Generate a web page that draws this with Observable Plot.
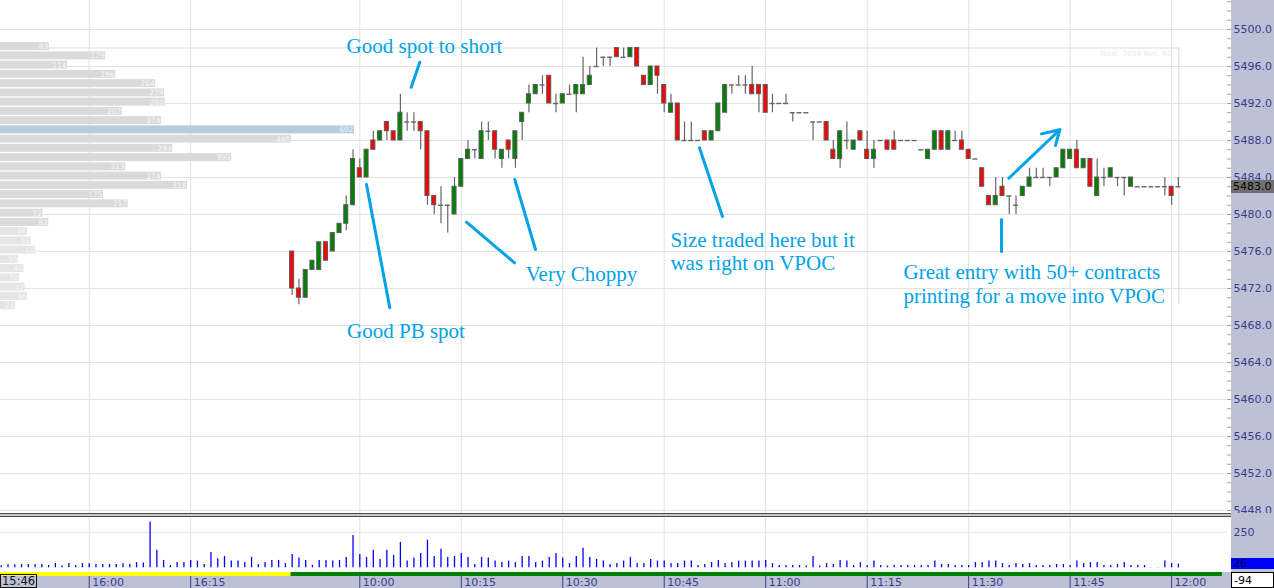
<!DOCTYPE html>
<html><head><meta charset="utf-8">
<script src="https://cdn.jsdelivr.net/npm/d3@7"></script>
<script src="https://cdn.jsdelivr.net/npm/@observablehq/plot@0.6"></script>
<style>
html,body{margin:0;padding:0;background:#fff;overflow:hidden;}
#wrap{position:relative;width:1274px;height:588px;overflow:hidden;font-family:"DejaVu Sans",sans-serif;}
.box{position:absolute;box-sizing:border-box;font-family:"DejaVu Sans",sans-serif;font-size:11px;line-height:1;white-space:nowrap;}
</style></head><body><div id="wrap"></div>
<script>
// ---------------- DATA ----------------
const firstBar = -10; // bar index of first visible candle (10:00 bar = 0)
const candleOpen = [
5476,5472,5471,5474,5474,5477,5476,5478,5479,5481,
5485,5484,5488,5488,5490,5489,5488,5490,5490,5490,
5489,5482,5481,5481,5480,5483,5486,5487,5486,5489,
5489,5486,5488,5486,5490,5492,5493,5494,5495,5492,
5492,5493,5493,5493,5494,5496,5497,5497,5498,5497,
5497,5498,5495,5494,5496,5494,5491,5492,5488,5488,
5488,5489,5488,5489,5491,5494,5494,5494,5494,5494,
5494,5492,5492,5492,5491,5491,5491,5490,5490,5490,
5487,5486,5488,5487,5489,5487,5486,5488,5488,5488,
5488,5488,5488,5487,5486,5487,5489,5487,5488,5488,
5487,5486,5485,5482,5481,5483,5482,5481,5482,5483,
5484,5484,5484,5484,5485,5486,5487,5485,5486,5482,
5484,5484,5484,5484,5483,5483,5483,5483,5483,5483,
5483,5483];
const candleHigh = [
5476,5473,5474,5475,5477,5477,5478,5479,5482,5487,
5486,5487,5489,5489,5490,5489,5493,5491,5491,5490,
5489,5482,5483,5481,5484,5486,5488,5487,5490,5490,
5489,5487,5488,5489,5491,5494,5494,5495,5495,5493,
5493,5494,5494,5497,5496,5498,5497,5497,5498,5498,
5498,5498,5495,5496,5496,5494,5493,5492,5490,5490,
5488,5489,5489,5492,5494,5494,5495,5495,5496,5494,
5494,5493,5492,5493,5491,5491,5491,5490,5490,5490,
5488,5489,5490,5488,5489,5489,5488,5488,5488,5489,
5488,5488,5488,5487,5487,5489,5489,5489,5489,5489,
5487,5486,5485,5482,5484,5484,5482,5482,5483,5485,
5485,5485,5484,5485,5487,5487,5488,5486,5486,5486,
5485,5485,5484,5484,5484,5483,5483,5483,5483,5484,
5483,5484];
const candleLow = [
5471.25,5470.25,5471,5474,5474,5475,5476,5478,5478.25,5481,
5484,5484,5487,5488,5488,5488,5488,5489,5489,5487,
5481,5480,5479,5478,5480,5483,5486,5486,5486,5488,
5486,5485,5486,5485,5488,5491,5493,5493,5492,5491,
5492,5493,5491,5493,5494,5496,5496,5496,5497,5497,
5497,5496,5494,5494,5493,5491,5491,5488,5488,5488,
5488,5488,5488,5489,5491,5493,5494,5493,5493,5491,
5491,5491,5492,5492,5490,5491,5491,5488,5490,5488,
5486,5485,5487,5487,5488,5486,5485,5488,5487,5487,
5488,5488,5488,5487,5486,5487,5487,5487,5488,5487,
5486,5486,5483,5481,5481,5482,5480,5480,5482,5483,
5484,5484,5483,5484,5485,5486,5485,5485,5483,5482,
5483,5484,5483,5482,5483,5483,5483,5483,5483,5482,
5481,5483];
const candleClose = [
5472,5471,5474,5475,5477,5475,5478,5479,5481,5486,
5484,5487,5487,5489,5489,5488,5491,5490,5490,5489,
5482,5481,5481,5481,5483,5486,5487,5487,5489,5489,
5487,5487,5487,5489,5491,5493,5494,5494,5492,5492,
5493,5493,5494,5494,5495,5496,5497,5497,5497,5497,
5498,5496,5494,5496,5495,5492,5492,5488,5488,5488,
5488,5488,5489,5492,5494,5494,5494,5494,5493,5493,
5491,5492,5492,5492,5491,5491,5491,5490,5490,5488,
5486,5489,5488,5488,5488,5486,5487,5488,5487,5487,
5488,5488,5488,5487,5487,5489,5487,5489,5488,5487,
5486,5486,5483,5481,5482,5482,5482,5481,5483,5484,
5484,5484,5484,5485,5487,5487,5485,5486,5483,5484,
5484,5485,5484,5484,5484,5483,5483,5483,5483,5483,
5482,5483];

// per-bar volume, bar index -53 .. 121
const volFirstBar = -53;
const barVolume = [
14,21,21,23,23,23,23,16,30,12, 30,16,30,28,23,23,23,23,28,23,
37,33,321,124,52,16,37,37,52,47, 23,108,63,80,47,47,37,73,23,37,
52,52,30,94,68,52,16,52,52,47, 52,73,227,94,73,124,59,124,87,178,
47,68,101,194,80,131,73,80,101,73, 23,73,68,47,37,47,37,80,80,37,
47,73,101,68,30,80,138,73,59,47, 23,30,47,73,30,
30,59,47,47,30,30,47,47,16,23, 37,52,30,37,47,47,47,47,52,30,
16,16,16,16,12,80,12,30,23,52, 47,16,37,16,47,16,12,16,16,16,
16,16,16,47,23,23,16,16,16,37, 37,47,47,30,16,30,23,30,16,16,
16,23,23,16,47,30,37,37,16,16, 23,37,16,16,16,2,2,47,30,26];

// volume profile
const profilePrice = [5498,5497,5496,5495,5494,5493,5492,5491,5490,5489,5488,5487,5486,5485,5484,5483,5482,5481,5480,5479,5478,5477,5476,5475,5474,5473,5472,5471,5470];
const profileVolume = [83,179,114,196,264,279,280,207,274,602,495,293,393,213,274,318,175,217,72,82,46,52,60,30,40,32,42,46,26];
const profileTotal = 7058, profileNet = 92;

// axes
const priceTicks = [5448,5452,5456,5460,5464,5468,5472,5476,5480,5484,5488,5492,5496,5500];
const timeTickBar = [-40,-25,0,15,30,45,60,75,90,105,120];
const timeTickLabel = ["16:00","16:15","10:00","10:15","10:30","10:45","11:00","11:15","11:30","11:45","12:00"];
const cursorTime = "15:46";
const lastPrice = 5483.0;
const lastVolume = 26;
const deltaValue = -94;
const sessionBreakBar = -10.15;
const sessionEndBar = 127.5;

// annotations (bar index, price)
const noteText = ["Good spot to short","Good PB spot","Very Choppy","Size traded here but it","was right on VPOC","Great entry with 50+ contracts","printing for a move into VPOC"];
const noteBar = [9.56, 6.83, 32.77, 45.92, 45.92, 80.37, 80.37];
const notePrice = [5498.16, 5467.35, 5473.51, 5477.19, 5474.70, 5473.73, 5471.13];
const noteAnchor = ["middle","middle","middle","start","start","start","start"];
const pointerSegments = [
  [8.87,5496.46, 7.60,5493.76],
  [0.99,5483.24, 4.43,5469.91],
  [15.77,5479.17, 22.87,5474.78],
  [22.91,5483.78, 25.97,5476.22],
  [50.21,5487.21, 53.61,5479.78],
  [94.86,5479.46, 94.86,5476.00],
  [95.94,5483.92, 103.47,5489.16],
  [103.47,5489.16, 100.77,5488.72],
  [103.47,5489.16, 102.84,5487.46]
];

// ---------------- LAYOUT / STYLE ----------------
const W = 1274, plotRight = 1226, barPx = 6.765, bar0Px = 359.3;
const xDomain = [-bar0Px / barPx, (plotRight - bar0Px) / barPx];
const profilePxPerLot = 0.588;
const gridColor = "#e2e2e2";
const axisColor = "#3c3c8c";
const noteColor = "#00A2E8";

const candles = candleOpen.map((o, k) => ({i: firstBar + k, open: o, high: candleHigh[k], low: candleLow[k], close: candleClose[k]}));
const vols = barVolume.map((v, k) => ({i: volFirstBar + k, v}));
const profile = profilePrice.map((p, k) => ({p, v: profileVolume[k], light: k >= 20}));
const notes = noteText.map((t, k) => ({t, i: noteBar[k], p: notePrice[k], a: noteAnchor[k]}));
const timeTicks = timeTickBar.map((b, k) => ({b, label: timeTickLabel[k]}));
const lastBar = candles[candles.length - 1].i;
const profHigh = d3.max(candleHigh), profLow = d3.min(candleLow);
const vpoc = d3.max(profileVolume);
const lotToBar = profilePxPerLot / barPx;
const profX = v => xDomain[0] + v * lotToBar;
const minorTicks = d3.range(5448, 5504, 1);

const svgStyle = {background: "transparent", fontFamily: "DejaVu Sans", overflow: "hidden"};

const pricePlot = Plot.plot({
  width: W, height: 513,
  marginLeft: 0, marginRight: W - plotRight, marginTop: 0, marginBottom: 0,
  x: {domain: xDomain, axis: null},
  y: {domain: [5447.676, 5503.135]},
  style: svgStyle,
  marks: [
    Plot.ruleY(priceTicks, {stroke: gridColor}),
    Plot.ruleX(timeTicks, {x: "b", stroke: gridColor}),
    // profile box
    Plot.ruleY([profHigh], {x1: xDomain[0], x2: lastBar + 0.06, stroke: "#dcdcdc"}),
    Plot.ruleX([lastBar + 0.06], {y1: profLow, y2: profHigh, stroke: "#dcdcdc"}),
    // profile bars
    Plot.rect(profile.filter(d => d.v !== vpoc), {
      x1: xDomain[0], x2: d => profX(d.v), y1: d => d.p + 0.15 - 0.43, y2: d => d.p + 0.15 + 0.43,
      fill: d => d.light ? "#e4e4e4" : "#dadada"
    }),
    Plot.rect(profile.filter(d => d.v === vpoc), {
      x1: xDomain[0], x2: d => profX(d.v), y1: d => d.p + 0.15 - 0.43, y2: d => d.p + 0.15 + 0.43,
      fill: "#b6cbe0"
    }),
    Plot.text(profile, {x: d => profX(d.v), y: d => d.p + 0.15, text: d => String(d.v), textAnchor: "end", dx: -1, fill: "#f6f6f6", fontSize: 7.5}),
    Plot.text([`Total: ${profileTotal} Net: ${profileNet}`], {x: lastBar, y: profHigh, text: d => d, textAnchor: "end", dx: -7, dy: 6, fill: "#ebebeb", fontSize: 7.5}),
    // candles
    Plot.ruleX(candles, {x: "i", y1: "low", y2: "high", stroke: "#666", strokeWidth: 1.2}),
    Plot.ruleY(candles.filter(d => d.open === d.close), {y: "open", x1: d => d.i - 0.37, x2: d => d.i + 0.37, stroke: "#666", strokeWidth: 1.4}),
    Plot.rect(candles.filter(d => d.close > d.open), {x1: d => d.i - 0.3, x2: d => d.i + 0.3, y1: "open", y2: "close", fill: "#008000", stroke: "#5c5c5c", strokeWidth: 1}),
    Plot.rect(candles.filter(d => d.close < d.open), {x1: d => d.i - 0.3, x2: d => d.i + 0.3, y1: "open", y2: "close", fill: "#ff0000", stroke: "#5c5c5c", strokeWidth: 1}),
    // annotations
    Plot.link(pointerSegments, {x1: d => d[0], y1: d => d[1], x2: d => d[2], y2: d => d[3], stroke: noteColor, strokeWidth: 3, strokeLinecap: "round"}),
    Plot.text(notes.filter(d => d.a === "middle"), {x: "i", y: "p", text: "t", textAnchor: "middle", fill: noteColor, fontSize: 21, fontFamily: "Liberation Serif"}),
    Plot.text(notes.filter(d => d.a === "start"), {x: "i", y: "p", text: "t", textAnchor: "start", fill: noteColor, fontSize: 21, fontFamily: "Liberation Serif"}),
    // right axis
    Plot.axisY({anchor: "right", ticks: minorTicks, tickSize: 4, tickFormat: () => "", stroke: "#a0a0a0", label: null}),
    Plot.axisY({anchor: "right", ticks: priceTicks, tickSize: 0, tickPadding: 7, tickFormat: d => d.toFixed(1), color: axisColor, fontSize: 11, label: null})
  ]
});

const volPlot = Plot.plot({
  width: W, height: 55,
  marginLeft: 0, marginRight: W - plotRight, marginTop: 0, marginBottom: 0,
  x: {domain: xDomain, axis: null},
  y: {domain: [-33, 353.2]},
  style: svgStyle,
  marks: [
    Plot.ruleX(timeTicks, {x: "b", stroke: gridColor}),
    Plot.ruleY([250], {stroke: gridColor}),
    Plot.ruleX(vols, {x: "i", y1: 0, y2: "v", stroke: "#0000ff", strokeWidth: 1.3}),
    Plot.axisY({anchor: "right", ticks: [250], tickSize: 0, tickPadding: 7, tickFormat: d => String(d), color: axisColor, fontSize: 11, label: null})
  ]
});

const timePlot = Plot.plot({
  width: W, height: 16,
  marginLeft: 0, marginRight: W - plotRight, marginTop: 0, marginBottom: 0,
  x: {domain: xDomain, axis: null},
  y: {domain: [0, 16], axis: null},
  style: svgStyle,
  marks: [
    Plot.rect([0], {x1: xDomain[0], x2: sessionBreakBar, y1: 12, y2: 16, fill: "#ffff00"}),
    Plot.rect([0], {x1: sessionBreakBar, x2: sessionEndBar, y1: 12, y2: 16, fill: "#008000"}),
    Plot.ruleX(timeTicks, {x: "b", y1: 0, y2: 12, stroke: axisColor}),
    Plot.text(timeTicks, {x: "b", y: 5.8, text: "label", textAnchor: "start", dx: 3, fill: axisColor, fontSize: 11})
  ]
});

// ---------------- ASSEMBLE ----------------
const wrap = document.getElementById("wrap");
function div(css, txt) { const d = document.createElement("div"); d.className = "box"; d.style.cssText += css; if (txt != null) d.textContent = txt; wrap.appendChild(d); return d; }
div("left:1231px;top:0;width:43px;height:572px;background:#bcc1d6;");
div("left:0;top:572px;width:1274px;height:16px;background:#bcc1d6;");
function place(svg, top) { svg.style.position = "absolute"; svg.style.left = "0px"; svg.style.top = top + "px"; wrap.appendChild(svg); }
place(pricePlot, 0);
div("left:0;top:513px;width:1231px;height:4px;border-top:1px solid #4d4d4d;border-bottom:1px solid #4d4d4d;background:#c6c6c6;");
place(volPlot, 517);
place(timePlot, 572);

const yLast = pricePlot.scale("y").apply(lastPrice);
div(`left:1231px;top:${yLast - 6.5}px;width:43px;height:13px;background:#6f6f6f;color:#000;padding:1px 0 0 2px;`, lastPrice.toFixed(1));
const yVol = volPlot.scale("y").apply(lastVolume) + 517;
div(`left:1231px;top:${yVol - 5.5}px;width:43px;height:11px;background:#0000ff;color:#00003a;padding:0 0 0 2px;font-size:11px;`, String(lastVolume));
div("left:1231px;top:572px;width:43px;height:16px;background:#fff;border:1px solid #000;color:#000;padding:2px 0 0 2px;", String(deltaValue));
div("left:0;top:574px;width:37px;height:14px;border:1.5px solid #111;color:#111;padding:1px 0 0 1px;font-size:11.5px;", cursorTime);
</script></body></html>
